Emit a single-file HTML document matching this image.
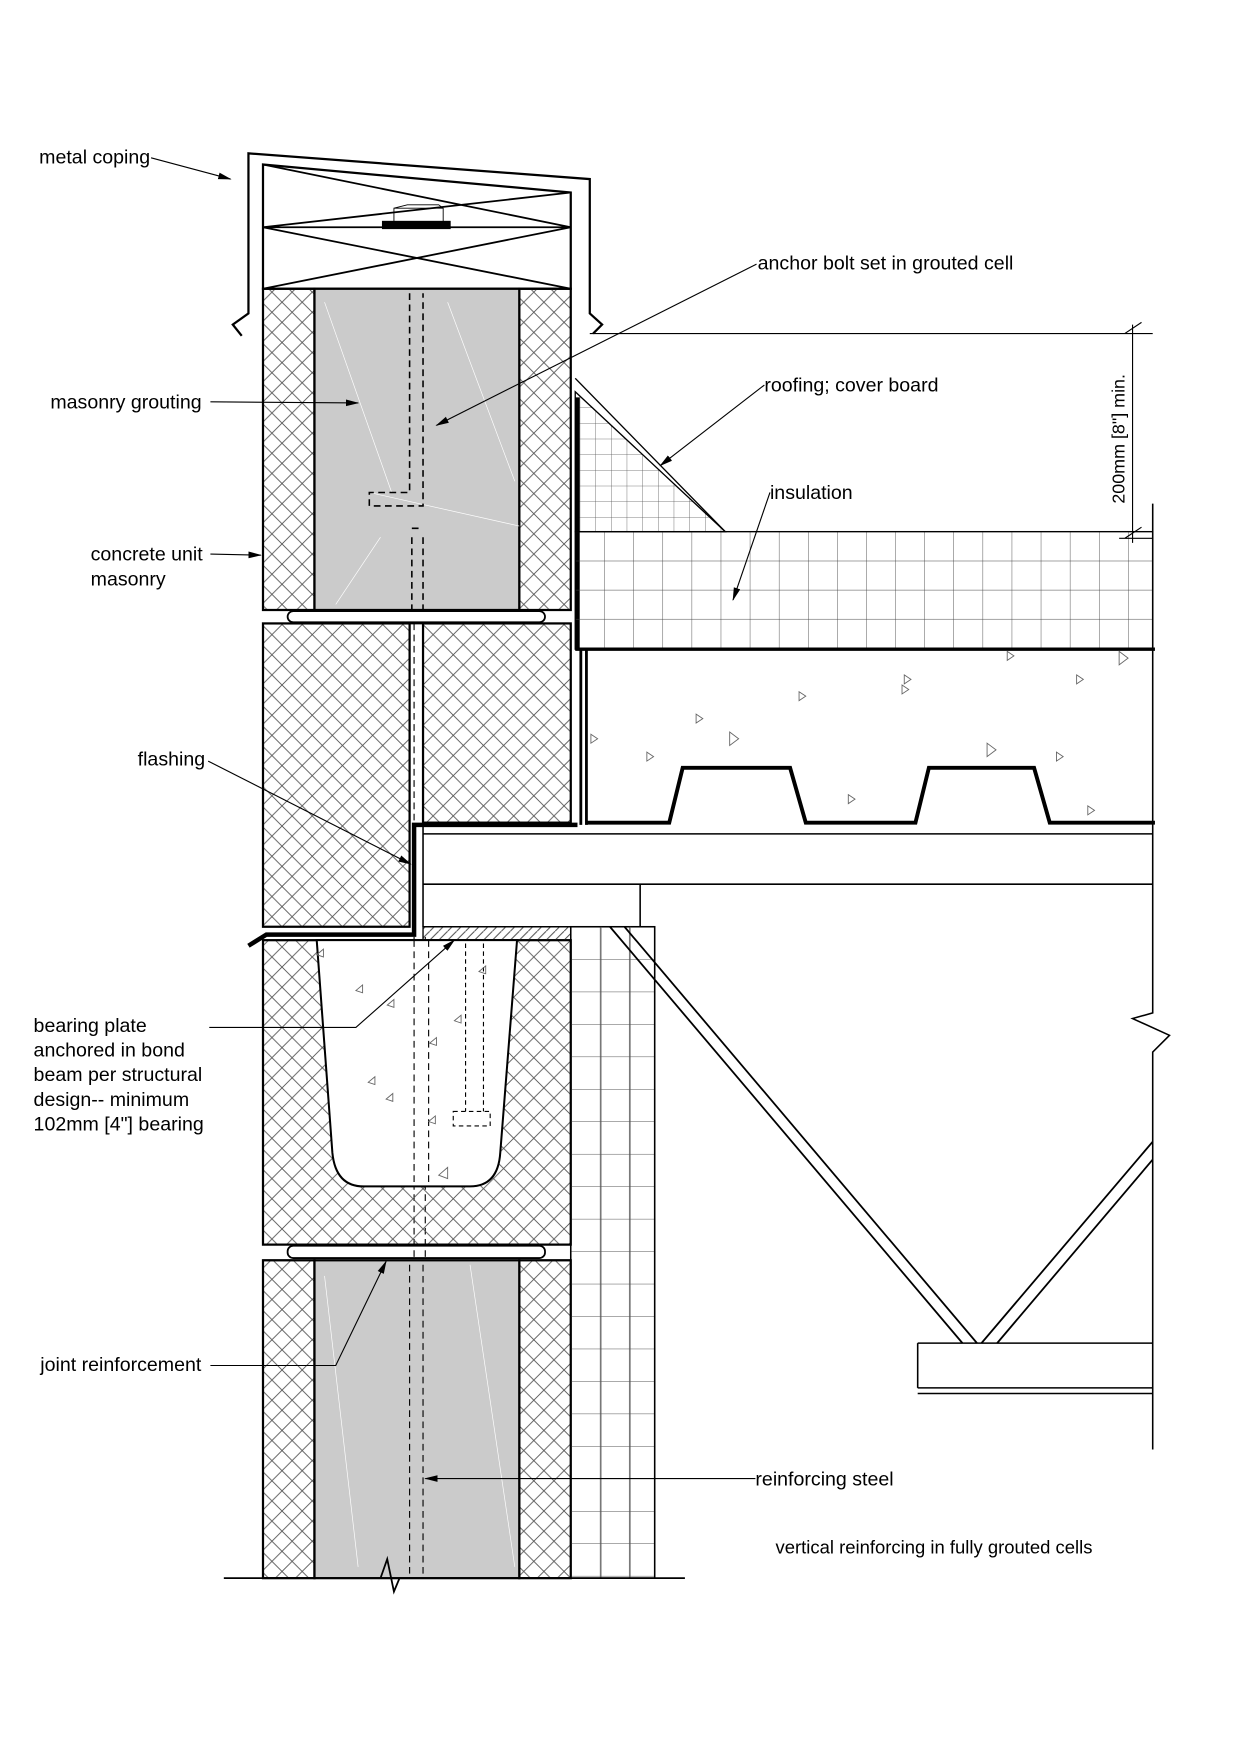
<!DOCTYPE html>
<html><head><meta charset="utf-8"><style>
html,body{margin:0;padding:0;background:#fff;width:1240px;height:1755px;overflow:hidden}
svg{display:block}
text{font-family:"Liberation Sans",Arial,sans-serif;font-size:17.5px;fill:#000}
</style></head><body>
<svg width="1240" height="1755" viewBox="0 0 1108 1568" preserveAspectRatio="none" xmlns="http://www.w3.org/2000/svg">
<defs>
<pattern id="xh" width="18" height="18" patternUnits="userSpaceOnUse">
<path d="M0 0L18 18M18 0L0 18" stroke="#555" stroke-width="0.8"/></pattern>
<pattern id="grid" width="26" height="26" patternUnits="userSpaceOnUse" x="514" y="475">
<path d="M0 0H26M0 0V26" stroke="#444" stroke-width="0.8" fill="none"/></pattern>
<pattern id="gridf" width="14" height="14" patternUnits="userSpaceOnUse">
<path d="M0 0H14M0 0V14" stroke="#555" stroke-width="0.7" fill="none"/></pattern>
<pattern id="brick" width="26" height="29" patternUnits="userSpaceOnUse" x="510" y="828">
<path d="M0 0H26M0 0V29" stroke="#555" stroke-width="0.8" fill="none"/></pattern>
<pattern id="diag" width="8" height="8" patternUnits="userSpaceOnUse">
<path d="M0 8L8 0" stroke="#333" stroke-width="0.8"/></pattern>
<marker id="ar" markerWidth="12" markerHeight="8" refX="11" refY="4" orient="auto" markerUnits="userSpaceOnUse">
<path d="M0 1L12 4L0 7z" fill="#000"/></marker>
</defs>
<g fill="none" stroke="#000" stroke-width="1.4">
<path d="M216 300L208 290L222 280V137L527 160V280L538 290L530 298" stroke-width="2"/>
<path d="M235 147L510 172V258H235Z" stroke-width="2"/>
<path d="M235 203H510M235 147L510 203M235 203L510 172M235 203L510 258M235 258L510 203" stroke-width="1.6"/>
<rect x="342" y="198" width="60" height="6" fill="#000"/>
<path d="M352 198V186H396V198M352 186L364 183H392L396 186" stroke-width="0.8"/>
<rect x="235" y="258" width="46" height="287" fill="url(#xh)" stroke-width="2"/>
<rect x="464" y="258" width="46" height="287" fill="url(#xh)" stroke-width="2"/>
<rect x="281" y="258" width="183" height="287" fill="#cbcbcb" stroke-width="2"/>
<path d="M290 270L350 440M330 440L464 470M400 270L460 430M300 540L340 480" stroke="#fff" stroke-width="0.6"/>
<path d="M366 262V440H330V452H378V262" stroke-dasharray="6 4"/>
<path d="M368 480V545M378 480V545M368 472H378" stroke-dasharray="6 4"/>
<path d="M235 545H510M235 557H510" stroke-width="1.6"/>
<rect x="257" y="546" width="230" height="10" rx="5" stroke-width="1.6"/>
<rect x="235" y="557" width="131" height="271" fill="url(#xh)" stroke-width="2"/>
<rect x="378" y="557" width="132" height="178" fill="url(#xh)" stroke-width="2"/>
<path d="M366 557V735M378 557V735"/>
<path d="M370 557V1410" stroke-dasharray="6 4" stroke-width="1"/>
<path d="M380 837V1410" stroke-dasharray="6 4" stroke-width="1"/>
<path d="M378 745H1030M378 790H1030M378 790H572V828H378" />
<path d="M378 735V828"/>
<path d="M516 737H370V835H238L222 845" stroke-width="4"/>
<rect x="235" y="840" width="275" height="272" fill="url(#xh)" stroke-width="2"/>
<rect x="378" y="828" width="132" height="12" fill="url(#diag)" stroke-width="1.2"/>
<path d="M283 840L297 1030Q300 1060 325 1060H420Q445 1060 447 1030L462 840Z" fill="#fff" stroke-width="1.8"/>
<path d="M370 840V1060M383 840V1060" stroke-dasharray="6 4" stroke-width="1"/>
<path d="M416 843V993M432 843V993M405 993H438V1006H405Z" stroke-dasharray="4 3" stroke-width="1"/>
<g stroke="#666" stroke-width="0.8">
<path d="M318 885l6-5v7zM346 898l6-5v7zM329 967l6-5v7zM345 982l6-5v7zM384 932l6-5v7zM406 912l6-5v7zM428 868l6-5v7zM392 1050l8-7v10zM383 1002l6-5v7zM283 853l6-5v7z"/>
</g>
<path d="M235 1112H510M235 1126H510" stroke-width="1.6"/>
<rect x="257" y="1113" width="230" height="11" rx="5" stroke-width="1.6"/>
<rect x="235" y="1126" width="46" height="284" fill="url(#xh)" stroke-width="2"/>
<rect x="464" y="1126" width="46" height="284" fill="url(#xh)" stroke-width="2"/>
<rect x="281" y="1126" width="183" height="284" fill="#cbcbcb" stroke-width="2"/>
<path d="M290 1140L320 1400M420 1130L460 1400" stroke="#fff" stroke-width="0.6"/>
<path d="M366 1130V1410M378 1130V1410" stroke-dasharray="6 4" stroke-width="1"/>
<rect x="510" y="828" width="75" height="582" fill="url(#brick)" stroke-width="1.4"/>
<path d="M537 828V1410M563 828V1410" stroke="#555" stroke-width="0.8"/>
<path d="M200 1410H340L346 1393L352 1422L357 1410H612" stroke-width="1.6"/>
<path d="M514 350L648 475H514Z" fill="url(#gridf)" stroke-width="1.2"/>
<path d="M514 338L648 475" stroke-width="1.2"/>
<path d="M516 355V580" stroke-width="4"/>
<rect x="514" y="475" width="516" height="105" fill="url(#grid)" stroke-width="1.2"/>
<path d="M514 580H1032" stroke-width="3"/>
<path d="M519 580V737M524 580V737" stroke-width="2.5"/>
<path d="M524 735H598L610 686H706L720 735H818L830 686H924L938 735H1032" stroke-width="3.5"/>
<g stroke="#666" stroke-width="0.8">
<path d="M652 654l8 6-8 6zM622 638l6 4-6 4zM714 618l6 4-6 4zM808 603l6 4-6 4zM900 582l6 4-6 4zM962 603l6 4-6 4zM1000 582l8 6-8 6zM528 656l6 4-6 4zM578 672l6 4-6 4zM758 710l6 4-6 4zM882 664l8 6-8 6zM944 672l6 4-6 4zM972 720l6 4-6 4zM806 612l6 4-6 4z"/>
</g>
<path d="M545 828L860 1200M558 828L873 1200" stroke-width="1.6"/>
<path d="M877 1200L1030 1020M891 1200L1030 1036" stroke-width="1.6"/>
<path d="M820 1200H1030M820 1240H1030M820 1245H1030M820 1200V1240" stroke-width="1.4"/>
<path d="M1030 450V905L1012 910L1045 925L1030 940V1295" stroke-width="1.4"/>
<path d="M527 298H1030M1012 290V485M1005 298L1020 288M1005 481L1020 471M1000 481H1030" stroke-width="1"/>
</g>
<text transform="translate(1005,450) rotate(-90)" style="font-size:16px">200mm [8"] min.</text>
<g stroke="#000" stroke-width="1" fill="none" marker-end="url(#ar)">
<path d="M135 141L206 160"/>
<path d="M676 236L390 380"/>
<path d="M188 359L320 360"/>
<path d="M683 344L590 416"/>
<path d="M688 440L655 536"/>
<path d="M188 495L233 496"/>
<path d="M186 680L367 772"/>
<path d="M187 918H318L406 840"/>
<path d="M188 1220H300L345 1127"/>
<path d="M675 1321H380"/>
</g>
<text x="35" y="146">metal coping</text>
<text x="677" y="241">anchor bolt set in grouted cell</text>
<text x="45" y="365">masonry grouting</text>
<text x="683" y="350">roofing; cover board</text>
<text x="688" y="446">insulation</text>
<text x="81" y="501">concrete unit</text>
<text x="81" y="523">masonry</text>
<text x="123" y="684">flashing</text>
<text x="30" y="922">bearing plate</text>
<text x="30" y="944">anchored in bond</text>
<text x="30" y="966">beam per structural</text>
<text x="30" y="988">design-- minimum</text>
<text x="30" y="1010">102mm [4"] bearing</text>
<text x="36" y="1225">joint reinforcement</text>
<text x="675" y="1327">reinforcing steel</text>
<text x="693" y="1388" style="font-size:16.5px">vertical reinforcing in fully grouted cells</text>
</svg>
</body></html>
